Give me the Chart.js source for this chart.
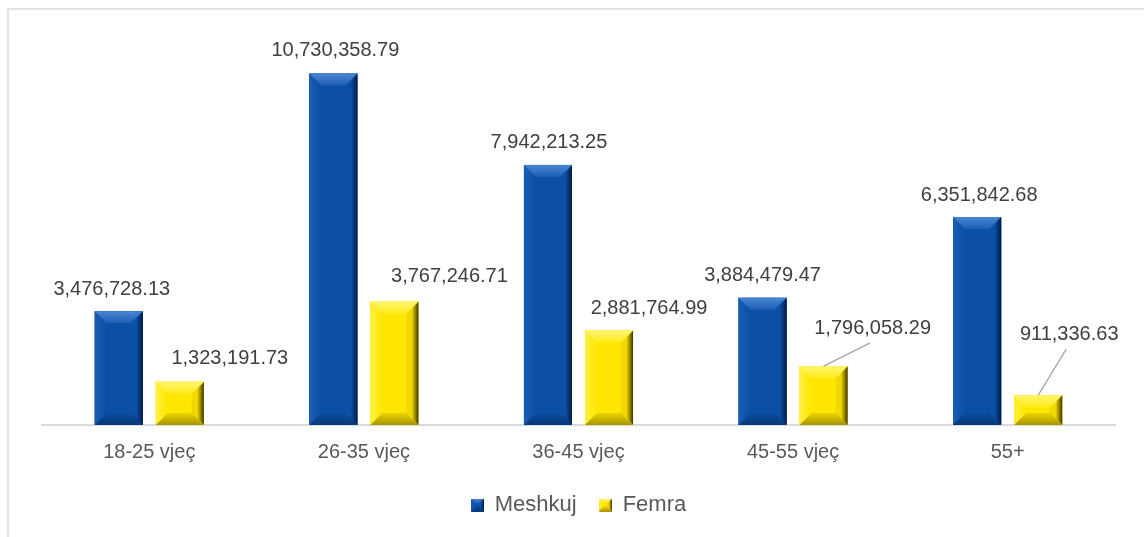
<!DOCTYPE html>
<html>
<head>
<meta charset="utf-8">
<script src="https://cdn.jsdelivr.net/npm/chart.js@4/dist/chart.umd.min.js"></script>
<style>
  html, body { margin: 0; padding: 0; background: #fff; overflow: hidden; }
  #frame { position: absolute; left: 7px; top: 8px; width: 2000px; height: 2000px; border: 2px solid #e2e2e2; box-sizing: border-box; }
  #wrap { position: absolute; left: 0; top: 0; width: 1144px; height: 537px; }
</style>
</head>
<body>
<div id="frame"></div>
<div id="wrap"><canvas id="canvas"></canvas></div>
<script>
// mosha / gjinia
var categories = ['18-25 vjeç', '26-35 vjeç', '36-45 vjeç', '45-55 vjeç', '55+'];
var meshkuj = [3476728.13, 10730358.79, 7942213.25, 3884479.47, 6351842.68];
var femra = [1323191.73, 3767246.71, 2881764.99, 1796058.29, 911336.63];
var seriesNames = ['Meshkuj', 'Femra'];

// label placement (dx, dy from bar top), leader line flag
var labelPos = [
  [[-7, -22], [2, -23], [1, -22], [0, -22], [2, -21]],
  [[50, -23], [55, -25], [40, -22], [49, -38, true], [31, -61, true]]
];

var blue = {
  face: '#0b4fa6',
  top: ['#4a86d2', '#1d5eb4'], left: ['#1a5cb3', '#0b4fa6'],
  right: ['#0b4fa6', '#021a44'], bottom: ['#0b4a9c', '#063a7c']
};
var yellow = {
  face: '#ffe600',
  top: ['#fff570', '#ffeb1c'], left: ['#fff040', '#ffe600'],
  right: ['#f0d800', '#3e3600'], bottom: ['#ecd400', '#a89500']
};

function poly(ctx, pts, fill) {
  ctx.beginPath();
  ctx.moveTo(pts[0][0], pts[0][1]);
  for (var i = 1; i < pts.length; i++) ctx.lineTo(pts[i][0], pts[i][1]);
  ctx.closePath();
  ctx.fillStyle = fill;
  ctx.fill();
}

function bevel(ctx, x0, y0, x1, y1, b, pal) {
  b = Math.min(b, (x1 - x0) / 2, (y1 - y0) / 2);
  var g;
  ctx.fillStyle = pal.face;
  ctx.fillRect(x0, y0, x1 - x0, y1 - y0);
  g = ctx.createLinearGradient(x0, 0, x0 + b, 0);
  g.addColorStop(0, pal.left[0]); g.addColorStop(1, pal.left[1]);
  poly(ctx, [[x0, y0], [x0 + b, y0 + b], [x0 + b, y1 - b], [x0, y1]], g);
  g = ctx.createLinearGradient(x1 - b, 0, x1, 0);
  g.addColorStop(0, pal.right[0]); g.addColorStop(0.45, pal.right[0]); g.addColorStop(1, pal.right[1]);
  poly(ctx, [[x1, y0], [x1, y1], [x1 - b, y1 - b], [x1 - b, y0 + b]], g);
  g = ctx.createLinearGradient(0, y0, 0, y0 + b);
  g.addColorStop(0, pal.top[0]); g.addColorStop(1, pal.top[1]);
  poly(ctx, [[x0, y0], [x1, y0], [x1 - b, y0 + b], [x0 + b, y0 + b]], g);
  g = ctx.createLinearGradient(0, y1 - b, 0, y1);
  g.addColorStop(0, pal.bottom[0]); g.addColorStop(1, pal.bottom[1]);
  poly(ctx, [[x0, y1], [x1, y1], [x1 - b, y1 - b], [x0 + b, y1 - b]], g);
}

function legendIcon(pal) {
  var c = document.createElement('canvas');
  c.width = 13; c.height = 13;
  bevel(c.getContext('2d'), 0, 0, 13, 13, 5, pal);
  return c;
}

var palettes = [blue, yellow];

var bevelPlugin = {
  id: 'bevel',
  afterDatasetsDraw: function(chart) {
    var ctx = chart.ctx;
    ctx.save();
    chart.data.datasets.forEach(function(ds, i) {
      chart.getDatasetMeta(i).data.forEach(function(bar) {
        var p = bar.getProps(['x', 'y', 'base', 'width'], true);
        bevel(ctx, p.x - p.width / 2, p.y, p.x + p.width / 2, p.base, 12, palettes[i]);
      });
    });
    ctx.restore();
  }
};

var labelPlugin = {
  id: 'valueLabels',
  afterDatasetsDraw: function(chart) {
    var ctx = chart.ctx;
    ctx.save();
    ctx.font = '20px "Liberation Sans", Arial, sans-serif';
    ctx.fillStyle = '#404040';
    ctx.textAlign = 'center';
    ctx.textBaseline = 'middle';
    chart.data.datasets.forEach(function(ds, i) {
      chart.getDatasetMeta(i).data.forEach(function(bar, j) {
        var p = bar.getProps(['x', 'y'], true);
        var pos = labelPos[i][j];
        var lx = p.x + pos[0], ly = p.y + pos[1];
        var txt = ds.data[j].toLocaleString('en-US', { minimumFractionDigits: 2, maximumFractionDigits: 2 });
        ctx.fillText(txt, lx, ly);
        if (pos[2]) {
          ctx.beginPath();
          ctx.moveTo(p.x, p.y);
          ctx.lineTo(lx - 3, ly + 15);
          ctx.strokeStyle = '#a6a6a6';
          ctx.lineWidth = 1.3;
          ctx.stroke();
        }
      });
    });
    ctx.restore();
  }
};

var ctx = document.getElementById('canvas').getContext('2d');
var chart = new Chart(ctx, {
  type: 'bar',
  data: {
    labels: categories,
    datasets: [
      { label: seriesNames[0], data: meshkuj, backgroundColor: blue.face, pointStyle: legendIcon(blue) },
      { label: seriesNames[1], data: femra, backgroundColor: yellow.face, pointStyle: legendIcon(yellow) }
    ]
  },
  options: {
    responsive: true,
    maintainAspectRatio: false,
    animation: false,
    categoryPercentage: 0.569,
    barPercentage: 0.787,
    layout: { padding: { left: 42, right: 29, top: 32, bottom: 11 } },
    scales: {
      x: {
        grid: { display: false },
        border: { display: true, color: '#d9d9d9', width: 2 },
        ticks: { color: '#595959', padding: 7, font: { family: '"Liberation Sans", Arial, sans-serif', size: 20 } },
        afterFit: function(scale) { scale.height += 1; }
      },
      y: { display: false, min: 0, max: 12000000 }
    },
    plugins: {
      legend: {
        position: 'bottom',
        labels: {
          usePointStyle: true,
          boxWidth: 13,
          boxHeight: 13,
          padding: 22,
          color: '#595959',
          font: { family: '"Liberation Sans", Arial, sans-serif', size: 22 }
        }
      },
      tooltip: { enabled: false }
    }
  },
  plugins: [bevelPlugin, labelPlugin]
});
</script>
</body>
</html>
